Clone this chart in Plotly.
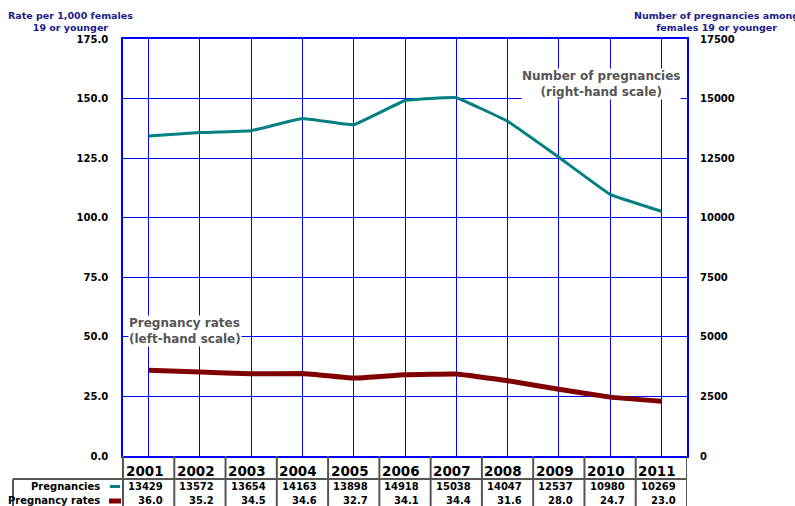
import plotly.graph_objects as go

years = ["2001", "2002", "2003", "2004", "2005", "2006", "2007", "2008", "2009", "2010", "2011"]
pregnancies = [13429, 13572, 13654, 14163, 13898, 14918, 15038, 14047, 12537, 10980, 10269]
rates = [36.0, 35.2, 34.5, 34.6, 32.7, 34.1, 34.4, 31.6, 28.0, 24.7, 23.0]
left_ticks = [0, 25, 50, 75, 100, 125, 150, 175]
right_ticks = [0, 2500, 5000, 7500, 10000, 12500, 15000, 17500]

TEAL = "#008080"
DRED = "#800000"
BLUE = "#0000ff"
NAVY = "#1a1a8c"
GRAY = "#555555"
FONT = "DejaVu Sans"

W, H = 795, 506
L, R, T, B = 123, 687, 39, 456
pw, ph = R - L, B - T

def py(y):
    return (B - y) / ph

def px(x):
    return (x - L) / pw

xs = list(range(len(years)))

fig = go.Figure()
fig.add_trace(go.Scatter(x=xs, y=pregnancies, yaxis="y2", mode="lines",
                         line=dict(color=TEAL, width=3, shape="spline", smoothing=0.2),
                         hoverinfo="skip", showlegend=False))
fig.add_trace(go.Scatter(x=xs, y=rates, yaxis="y", mode="lines",
                         line=dict(color=DRED, width=5, shape="spline", smoothing=0.2),
                         hoverinfo="skip", showlegend=False))

shapes = []
annotations = []

# table column separators
for i in range(len(years)):
    shapes.append(dict(type="line", xref="x", yref="paper", x0=i + 0.5, x1=i + 0.5,
                       y0=py(456), y1=py(510), line=dict(color=GRAY, width=2)))
shapes.append(dict(type="line", xref="paper", yref="paper", x0=px(123), x1=px(123),
                   y0=py(456), y1=py(510), line=dict(color=GRAY, width=2)))
# header underline
shapes.append(dict(type="line", xref="paper", yref="paper", x0=px(13), x1=px(687),
                   y0=py(479), y1=py(479), line=dict(color=GRAY, width=2)))
# left border
shapes.append(dict(type="line", xref="paper", yref="paper", x0=px(13), x1=px(13),
                   y0=py(479), y1=py(510), line=dict(color=GRAY, width=2)))
# legend dashes
shapes.append(dict(type="line", xref="paper", yref="paper", x0=px(110), x1=px(120),
                   y0=py(486.5), y1=py(486.5), line=dict(color=TEAL, width=3)))
shapes.append(dict(type="line", xref="paper", yref="paper", x0=px(109), x1=px(121),
                   y0=py(501), y1=py(501), line=dict(color=DRED, width=5)))

for i, yr in enumerate(years):
    annotations.append(dict(x=i + 0.33, y=py(470.5), xref="x", yref="paper", text=yr,
                            showarrow=False, xanchor="right", yanchor="middle",
                            font=dict(family=FONT, size=13.5, color="black", weight="bold")))
    annotations.append(dict(x=i + 0.32, y=py(486.5), xref="x", yref="paper", text=str(pregnancies[i]),
                            showarrow=False, xanchor="right", yanchor="middle",
                            font=dict(family=FONT, size=10, color="black", weight="bold")))
    annotations.append(dict(x=i + 0.32, y=py(500.5), xref="x", yref="paper", text=f"{rates[i]:.1f}",
                            showarrow=False, xanchor="right", yanchor="middle",
                            font=dict(family=FONT, size=10, color="black", weight="bold")))

annotations.append(dict(x=px(102), y=py(486.5), xref="paper", yref="paper", text="Pregnancies",
                        showarrow=False, xanchor="right", yanchor="middle",
                        font=dict(family=FONT, size=10, color="black", weight="bold")))
annotations.append(dict(x=px(102), y=py(500.5), xref="paper", yref="paper", text="Pregnancy rates",
                        showarrow=False, xanchor="right", yanchor="middle",
                        font=dict(family=FONT, size=10, color="black", weight="bold")))

# axis titles
annotations.append(dict(x=px(70), y=py(21.5), xref="paper", yref="paper",
                        text="Rate per 1,000 females<br>19 or younger",
                        showarrow=False, xanchor="center", yanchor="middle", align="center",
                        font=dict(family=FONT, size=9.5, color=NAVY, weight="bold")))
annotations.append(dict(x=px(716), y=py(21.5), xref="paper", yref="paper",
                        text="Number of pregnancies among<br>females 19 or younger",
                        showarrow=False, xanchor="center", yanchor="middle", align="center",
                        font=dict(family=FONT, size=9.5, color=NAVY, weight="bold")))

# series labels
annotations.append(dict(x=px(601), y=py(84), xref="paper", yref="paper",
                        text="Number of pregnancies<br>(right-hand scale)",
                        showarrow=False, xanchor="center", yanchor="middle", align="center",
                        bgcolor="white", borderpad=0,
                        font=dict(family=FONT, size=12, color=GRAY, weight="bold")))
annotations.append(dict(x=px(128), y=py(331), xref="paper", yref="paper",
                        text="Pregnancy rates<br>(left-hand scale)",
                        showarrow=False, xanchor="left", yanchor="middle", align="left",
                        bgcolor="white", borderpad=0,
                        font=dict(family=FONT, size=12, color=GRAY, weight="bold")))

fig.update_layout(
    width=W, height=H,
    margin=dict(l=L, r=W - R, t=T, b=H - B),
    paper_bgcolor="white", plot_bgcolor="white",
    xaxis=dict(range=[-0.5, len(years) - 0.5], tickvals=xs, showticklabels=False,
               showgrid=True, gridcolor=BLUE, gridwidth=1, zeroline=False,
               showline=True, linecolor=BLUE, linewidth=1.5, mirror=True, ticks=""),
    yaxis=dict(range=[0, 175], tickvals=left_ticks, ticktext=[f"{v:.1f}" for v in left_ticks],
               showgrid=True, gridcolor=BLUE, gridwidth=1, zeroline=False,
               showline=True, linecolor=BLUE, linewidth=1.5, mirror=True,
               ticks="", ticklabelstandoff=11,
               tickfont=dict(family=FONT, size=10, color="black", weight="bold")),
    yaxis2=dict(range=[0, 17500], tickvals=right_ticks, ticktext=[str(v) for v in right_ticks],
                overlaying="y", side="right", showgrid=False, zeroline=False,
                showline=False, ticks="", ticklabelstandoff=12,
                tickfont=dict(family=FONT, size=10, color="black", weight="bold")),
    shapes=shapes,
    annotations=annotations,
)

fig.write_html("out.html", config={"displayModeBar": False},
               post_script="document.body.style.margin='0';document.body.style.overflow='hidden';")
